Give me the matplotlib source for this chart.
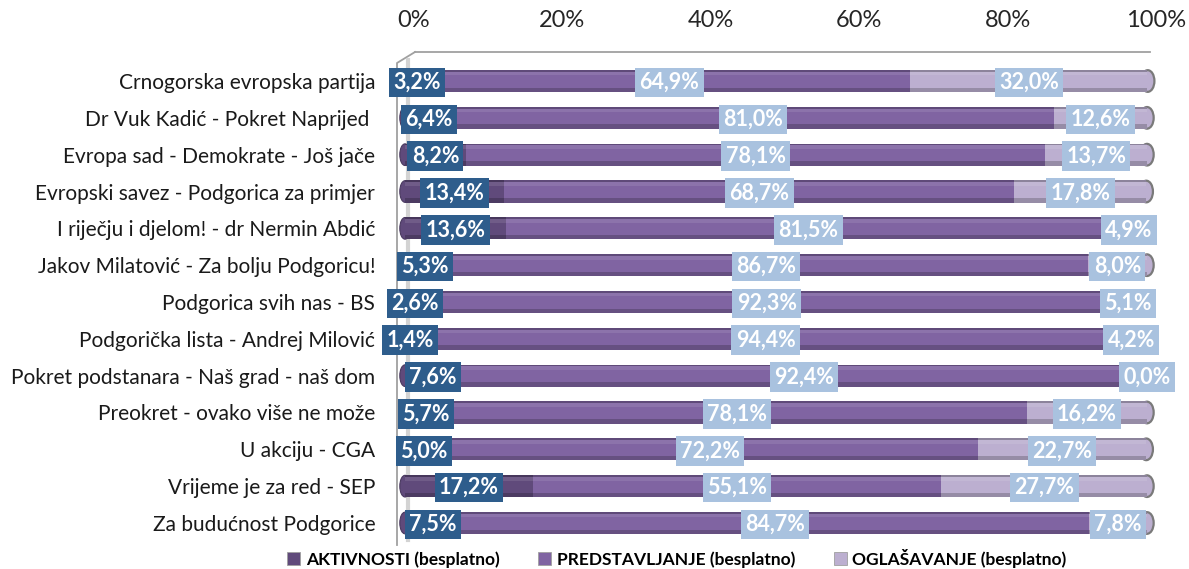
import matplotlib
matplotlib.use("Agg")
import matplotlib.pyplot as plt
import matplotlib.transforms as mtransforms
from matplotlib.patches import Ellipse, Patch
from matplotlib.lines import Line2D
import numpy as np

plt.rcParams['font.family'] = ['Lato', 'DejaVu Sans']

categories = [
    "Crnogorska evropska partija",
    "Dr Vuk Kadić - Pokret Naprijed ",
    "Evropa sad - Demokrate - Još jače",
    "Evropski savez - Podgorica za primjer",
    "I riječju i djelom! - dr Nermin Abdić",
    "Jakov Milatović - Za bolju Podgoricu!",
    "Podgorica svih nas - BS",
    "Podgorička lista - Andrej Milović",
    "Pokret podstanara - Naš grad - naš dom",
    "Preokret - ovako više ne može",
    "U akciju - CGA",
    "Vrijeme je za red - SEP",
    "Za budućnost Podgorice",
]
aktivnosti = [3.2, 6.4, 8.2, 13.4, 13.6, 5.3, 2.6, 1.4, 7.6, 5.7, 5.0, 17.2, 7.5]
predstavljanje = [64.9, 81.0, 78.1, 68.7, 81.5, 86.7, 92.3, 94.4, 92.4, 78.1, 72.2, 55.1, 84.7]
oglasavanje = [32.0, 12.6, 13.7, 17.8, 4.9, 8.0, 5.1, 4.2, 0.0, 16.2, 22.7, 27.7, 7.8]
series_names = ["AKTIVNOSTI (besplatno)", "PREDSTAVLJANJE (besplatno)", "OGLAŠAVANJE (besplatno)"]
xticks = [0, 20, 40, 60, 80, 100]
xtick_labels = ["0%", "20%", "40%", "60%", "80%", "100%"]

colors = ["#604A7B", "#8064A2", "#BCAFD0"]
box_dark = "#2E5D8C"
box_light = "#A9C2DF"

W, H = 1189, 569
fig = plt.figure(figsize=(W / 100, H / 100), dpi=100)
ax = fig.add_axes([405 / W, 1 - 541.4 / H, 742 / W, (541.4 - 62.6) / H])

# 3D-like frame
fig.add_artist(Line2D([415 / W, 1150 / W], [1 - 52 / H, 1 - 52 / H], transform=fig.transFigure,
                      color="#A0A0A0", lw=1.3, zorder=0))
fig.add_artist(Line2D([415 / W, 397 / W, 397 / W], [1 - 52 / H, 1 - 63 / H, 1 - 545 / H],
                      transform=fig.transFigure, color="#A0A0A0", lw=1.3, zorder=0))
fig.add_artist(Line2D([408 / W, 408 / W], [1 - 60 / H, 1 - 540 / H],
                      transform=fig.transFigure, color="#D3D3D3", lw=3, zorder=0))

n = len(categories)
y = np.arange(n)
a = np.array(aktivnosti)
p = np.array(predstavljanje)
o = np.array(oglasavanje)
h = 0.6

total = a + p + o
for i in range(n):
    last_col = colors[2] if o[i] > 0 else colors[1]
    ax.add_patch(Ellipse((total[i], y[i]), 1.8, h * 0.98, facecolor=last_col, edgecolor="#7a7a7a",
                         lw=1.6, zorder=2, clip_on=False))
    ax.add_patch(Ellipse((0, y[i]), 1.4, h * 0.98, facecolor=colors[0], edgecolor="#4a3a60",
                         lw=0.8, zorder=2, clip_on=False))

lefts = [np.zeros(n), a, a + p]
widths = [a, p, o]
for i, (l, w) in enumerate(zip(lefts, widths)):
    ax.barh(y, w, left=l, height=h, color=colors[i], zorder=3, linewidth=0)
    # cylinder shading: thin dark top edge, light band, darker bottom band
    ax.barh(y - h / 2 + 0.025, w, left=l, height=0.05, color="black", alpha=0.25, zorder=4, linewidth=0)
    ax.barh(y - h / 2 + 0.10, w, left=l, height=0.10, color="white", alpha=0.10, zorder=4, linewidth=0)
    ax.barh(y + h / 2 - 0.06, w, left=l, height=0.12, color="black", alpha=0.20, zorder=4, linewidth=0)

# labels
for i in range(n):
    centers = [a[i] / 2, a[i] + p[i] / 2, a[i] + p[i] + o[i] / 2]
    vals = [a[i], p[i], o[i]]
    for k in range(3):
        fc = box_dark if k == 0 else box_light
        ax.text(centers[k], y[i] + 0.04, f"{vals[k]:.1f}%".replace(".", ","), ha="center", va="center",
                fontsize=15.5, fontweight="bold", color="white", zorder=6, clip_on=False,
                bbox=dict(boxstyle="square,pad=0.2", fc=fc, ec="none"))

ax.set_xlim(0, 100)
ax.set_ylim(n - 0.5, -0.5)
ax.xaxis.tick_top()
ax.set_xticks(xticks)
ax.set_xticklabels(xtick_labels, fontsize=17, color="#262626")
ax.tick_params(axis="x", length=0, pad=23)
offset = mtransforms.ScaledTranslation(9 / 100, 0, fig.dpi_scale_trans)
for lab in ax.get_xticklabels():
    lab.set_transform(lab.get_transform() + offset)
ax.set_yticks(y)
ax.set_yticklabels(categories, fontsize=15, color="#1a1a1a")
ax.tick_params(axis="y", length=0, pad=21.5)
for s in ax.spines.values():
    s.set_visible(False)
ax.set_facecolor("none")

handles = [Patch(facecolor=c, edgecolor="#a0a0a0", lw=0.6) for c in colors]
fig.legend(handles, series_names, loc="center", bbox_to_anchor=(677 / W, 1 - 558 / H), ncol=3,
           frameon=False, handlelength=0.75, handleheight=0.75, handletextpad=0.3,
           columnspacing=2.25, prop=dict(family="Lato", weight="bold", size=12.5))

fig.savefig("out.png", dpi=100)
